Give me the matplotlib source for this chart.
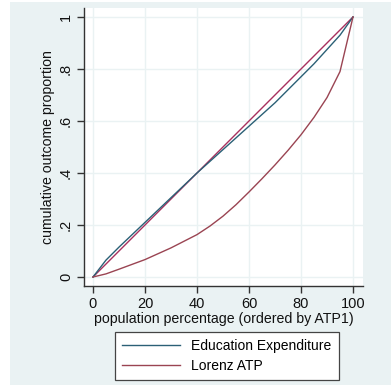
import matplotlib.pyplot as plt
from matplotlib.lines import Line2D
from matplotlib.patches import Rectangle

plt.rcParams['font.family'] = ['Liberation Sans', 'DejaVu Sans']

# population share (%) and cumulative outcome shares
pop = [0, 5, 10, 20, 30, 40, 45, 50, 55, 60, 65, 70, 75, 80, 85, 90, 95, 100]
edu_exp = [0, 0.065, 0.115, 0.21, 0.305, 0.40, 0.445, 0.49, 0.535, 0.58,
           0.625, 0.67, 0.72, 0.77, 0.82, 0.875, 0.93, 1]
lorenz_atp = [0, 0.012, 0.03, 0.067, 0.112, 0.163, 0.196, 0.234, 0.278, 0.327,
              0.378, 0.431, 0.487, 0.547, 0.614, 0.69, 0.79, 1]
equality_x = [0, 100]
equality_y = [0, 1]

xticks = [0, 20, 40, 60, 80, 100]
yticks = [0, 0.2, 0.4, 0.6, 0.8, 1]
ytick_labels = ['0', '.2', '.4', '.6', '.8', '1']

W, H = 391, 392
fig = plt.figure(figsize=(W / 100, H / 100), dpi=100)
fig.patch.set_facecolor('white')
# graph region background, kept behind the axes
fig.patches.append(Rectangle((10 / W, 1 - 385 / H), (W - 10) / W, (385 - 2) / H,
                             transform=fig.transFigure, facecolor='#eaf2f3',
                             edgecolor='none', zorder=-10))

ax = fig.add_axes([84 / W, 1 - 286 / H, (363 - 84) / W, (286 - 8) / H])
ax.set_facecolor('white')

blue = '#2b6076'
maroon = '#9a4452'
magenta = '#a8305e'

ax.plot(pop, edu_exp, color=blue, lw=1.0, zorder=3)
ax.plot(pop, lorenz_atp, color=maroon, lw=1.0, zorder=3)
ax.plot(equality_x, equality_y, color=magenta, lw=1.0, zorder=2)

ax.set_xlim(-3.46, 103.85)
ax.set_ylim(-0.0346, 1.0346)
ax.set_xticks(xticks)
ax.set_yticks(yticks)
ax.set_yticklabels(ytick_labels, rotation=90, va='center')
ax.grid(True, color='#eaf2f3', lw=1.0)
ax.set_axisbelow(True)

for s in ['top', 'right']:
    ax.spines[s].set_visible(False)
for s in ['left', 'bottom']:
    ax.spines[s].set_color('#333333')
    ax.spines[s].set_linewidth(1.0)

ax.tick_params(direction='out', length=5, width=1, color='#333333',
               labelsize=10.5, labelcolor='#111111', pad=3)
ax.set_xlabel('population percentage (ordered by ATP1)', fontsize=10.2,
              color='#111111', labelpad=1)
ax.set_ylabel('cumulative outcome proportion', fontsize=10.2,
              color='#111111', labelpad=3)

handles = [Line2D([], [], color=blue, lw=1.0),
           Line2D([], [], color=maroon, lw=1.0)]
leg = fig.legend(handles, ['Education Expenditure', 'Lorenz ATP'],
                 loc='upper left', bbox_to_anchor=(115 / W, 1 - 332 / H),
                 bbox_transform=fig.transFigure, fontsize=10, frameon=True,
                 fancybox=False, edgecolor='#444444', framealpha=1,
                 handlelength=4.2, handletextpad=0.8, borderpad=0.5,
                 labelspacing=0.42, borderaxespad=0)
leg.get_frame().set_linewidth(0.9)

fig.savefig('out.png', dpi=100)
